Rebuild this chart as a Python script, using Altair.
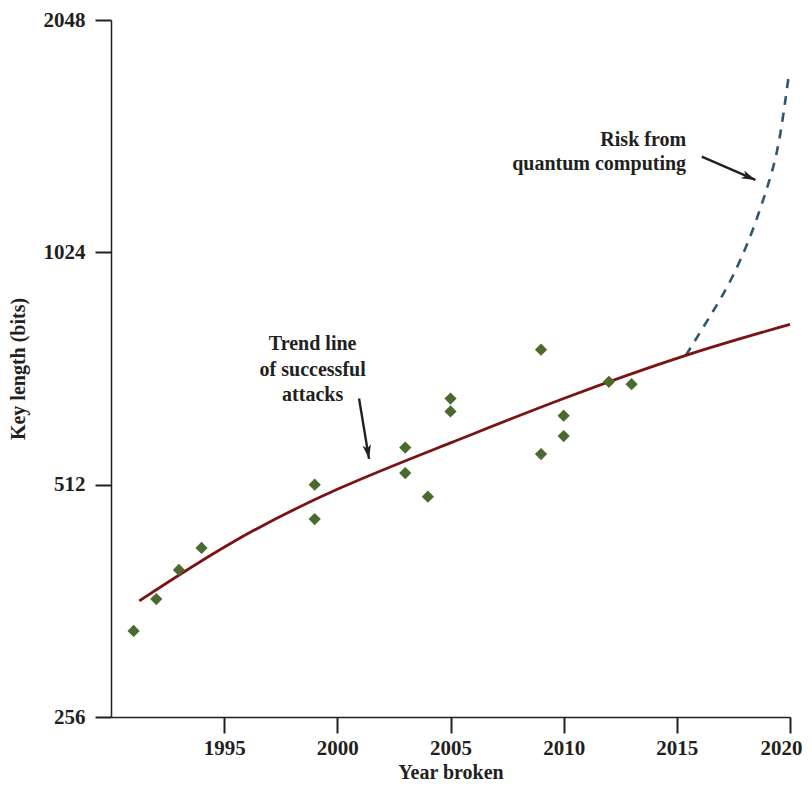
import altair as alt
import pandas as pd

# ---- data ----
years = [1991, 1992, 1993, 1994, 1999, 1999, 2003, 2003, 2004, 2005, 2005,
         2009, 2009, 2010, 2010, 2012, 2013]
key_bits = [331, 364, 397, 424, 512, 462, 572, 530, 494, 662, 637,
            766, 561, 629, 592, 696, 691]

trend_years = [1991.25, 1995.3, 2000, 2005, 2010, 2015.4, 2020]
trend_bits = [362, 430, 505, 580, 662, 753, 826]

quantum_years = [2015.4, 2016.4, 2017.4, 2018.3, 2019.0, 2019.5, 2019.93]
quantum_bits = [753, 840, 945, 1085, 1245, 1420, 1723]

x_ticks = [1995, 2000, 2005, 2010, 2015, 2020]
y_ticks = [256, 512, 1024, 2048]

right_labels = ["Risk from", "quantum computing"]
right_label_years = [2015.41, 2015.41]
right_label_bits = [1407, 1308]

center_labels = ["Trend line", "of successful", "attacks"]
center_label_years = [1998.91, 1998.91, 1998.91]
center_label_bits = [766, 709, 657]

arrow_start_years = [2000.96, 2016.1]
arrow_start_bits = [662, 1362]
arrow_tip_years = [2001.4, 2018.47]
arrow_tip_bits = [553, 1271]
arrow_angles = [170.6, 113.6]

# ---- styling ----
FONT = "Liberation Serif"
TXT = "#231f20"
GREEN = "#4b6b2e"
RED = "#7b1214"
BLUE = "#2d5873"

xscale = alt.Scale(domain=[1990, 2020], nice=False, zero=False)
yscale = alt.Scale(type="log", base=2, domain=[256, 2048], nice=False)

xaxis = alt.Axis(values=x_ticks, format="d", title="Year broken", grid=False,
                 labelFont=FONT, labelFontWeight="bold", labelFontSize=21,
                 labelColor=TXT, labelPadding=4, labelFlush=True,
                 labelFlushOffset=12,
                 labelOverlap=False, tickSize=16, tickWidth=2, tickColor=TXT,
                 domainColor=TXT, domainWidth=1.5, titleFont=FONT,
                 titleFontWeight="bold", titleFontSize=20, titleColor=TXT,
                 titlePadding=4)
yaxis = alt.Axis(values=y_ticks, format="d", title="Key length (bits)", grid=False,
                 labelFont=FONT, labelFontWeight="bold", labelFontSize=21,
                 labelColor=TXT, labelPadding=10, labelOverlap=False,
                 tickSize=16, tickWidth=2, tickColor=TXT,
                 domainColor=TXT, domainWidth=1.5, titleFont=FONT,
                 titleFontWeight="bold", titleFontSize=20, titleColor=TXT,
                 titlePadding=15)


def X(field="year"):
    return alt.X(f"{field}:Q", scale=xscale, axis=xaxis)


def Y(field="bits"):
    return alt.Y(f"{field}:Q", scale=yscale, axis=yaxis)


pts = pd.DataFrame({"year": years, "bits": key_bits})
trend = pd.DataFrame({"year": trend_years, "bits": trend_bits})
quantum = pd.DataFrame({"year": quantum_years, "bits": quantum_bits})
rlab = pd.DataFrame({"year": right_label_years, "bits": right_label_bits,
                     "label": right_labels})
clab = pd.DataFrame({"year": center_label_years, "bits": center_label_bits,
                     "label": center_labels})
arrows = pd.DataFrame({"year": arrow_start_years, "bits": arrow_start_bits,
                       "year2": arrow_tip_years, "bits2": arrow_tip_bits,
                       "angle": arrow_angles})

trend_layer = alt.Chart(trend).mark_line(
    color=RED, strokeWidth=2.8, interpolate="natural"
).encode(x=X(), y=Y())

quantum_layer = alt.Chart(quantum).mark_line(
    color=BLUE, strokeWidth=2.6, strokeDash=[9, 8], interpolate="natural"
).encode(x=X(), y=Y())

point_layer = alt.Chart(pts).mark_point(
    shape="diamond", filled=True, size=150, color=GREEN, opacity=1
).encode(x=X(), y=Y())

rtext = alt.Chart(rlab).mark_text(
    align="right", baseline="alphabetic", font=FONT, fontWeight="bold",
    fontSize=20, color=TXT
).encode(x=X(), y=Y(), text="label:N")

ctext = alt.Chart(clab).mark_text(
    align="center", baseline="alphabetic", font=FONT, fontWeight="bold",
    fontSize=20, color=TXT
).encode(x=X(), y=Y(), text="label:N")

shaft = alt.Chart(arrows).mark_rule(color=TXT, strokeWidth=2.4).encode(
    x=X(), y=Y(), x2="year2:Q", y2="bits2:Q"
)

head = alt.Chart(arrows).mark_point(
    shape="M0,0L0.6,2L0,1.5L-0.6,2Z", filled=True, size=196, color=TXT,
    opacity=1
).encode(
    x=alt.X("year2:Q", scale=xscale, axis=xaxis),
    y=alt.Y("bits2:Q", scale=yscale, axis=yaxis),
    angle=alt.Angle("angle:Q", scale=None),
)

chart = alt.layer(
    quantum_layer, trend_layer, point_layer, shaft, head, rtext, ctext
).properties(
    width=679, height=697,
    autosize=alt.AutoSizeParams(type="none"),
    padding={"left": 103, "top": 12, "right": 14, "bottom": 69},
    background="white",
).configure_view(stroke=None)

chart.save("out.html", embed_options={"renderer": "svg", "actions": False})
